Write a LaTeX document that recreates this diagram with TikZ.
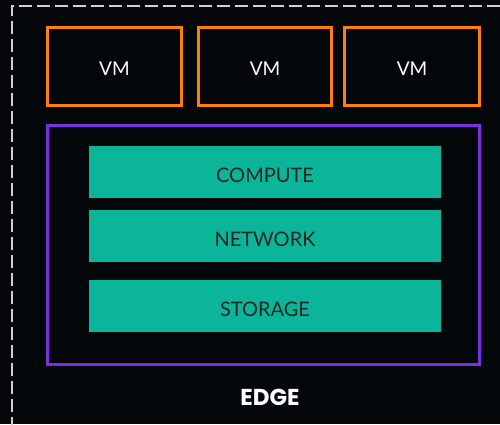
\documentclass[tikz,border=0pt]{standalone}
\usepackage{fontspec}
\setmainfont{Lato}
\newfontfamily\edgefont{Poppins}
\definecolor{bgdark}{HTML}{03070A}
\definecolor{vmorange}{HTML}{FF8000}
\definecolor{hostpurple}{HTML}{7B2FE0}
\definecolor{layerteal}{HTML}{0BB599}
\definecolor{borderGrey}{HTML}{D0D0D0}
\tikzstyle{vmbox}=[draw=vmorange, line width=3pt, text=white, font=\fontsize{19}{22}\selectfont, inner sep=0pt]
\tikzstyle{layer}=[fill=layerteal, text=black!85, font=\fontsize{20}{24}\selectfont, minimum width=352pt, minimum height=52pt, inner sep=0pt]

\begin{document}
\begin{tikzpicture}[x=1pt, y=-1pt]
      \useasboundingbox (0,0) rectangle (500,424);
      \fill[bgdark] (0,0) rectangle (500,424);
      \clip (0,0) rectangle (500,424);
      \draw[borderGrey, line width=2pt, dash pattern=on 13pt off 5pt] (11.5,430) -- (11.5,5.5) -- (510,5.5);
      \node[vmbox, minimum width=134pt, minimum height=78pt] (vm1) at (114.5,66.5) {\raisebox{-9pt}[0pt][0pt]{VM}};
      \node[vmbox, minimum width=133pt, minimum height=78pt] (vm2) at (265,66.5)   {\raisebox{-9pt}[0pt][0pt]{VM}};
      \node[vmbox, minimum width=135pt, minimum height=78pt] (vm3) at (412,66.5)   {\raisebox{-9pt}[0pt][0pt]{VM}};
      \node[draw=hostpurple, line width=3pt, minimum width=432pt, minimum height=239pt, inner sep=0pt] (host) at (263.5,244.5) {};
      \node[layer] (compute) at (265,172) {\raisebox{-10pt}[0pt][0pt]{COMPUTE}};
      \node[layer] (network) at (265,236) {\raisebox{-10pt}[0pt][0pt]{NETWORK}};
      \node[layer] (storage) at (265,306) {\raisebox{-10pt}[0pt][0pt]{STORAGE}};
      \node[text=white, font=\edgefont\bfseries\fontsize{23}{26}\selectfont] (edge) at (270,397) {EDGE};
    \end{tikzpicture}
\end{document}
